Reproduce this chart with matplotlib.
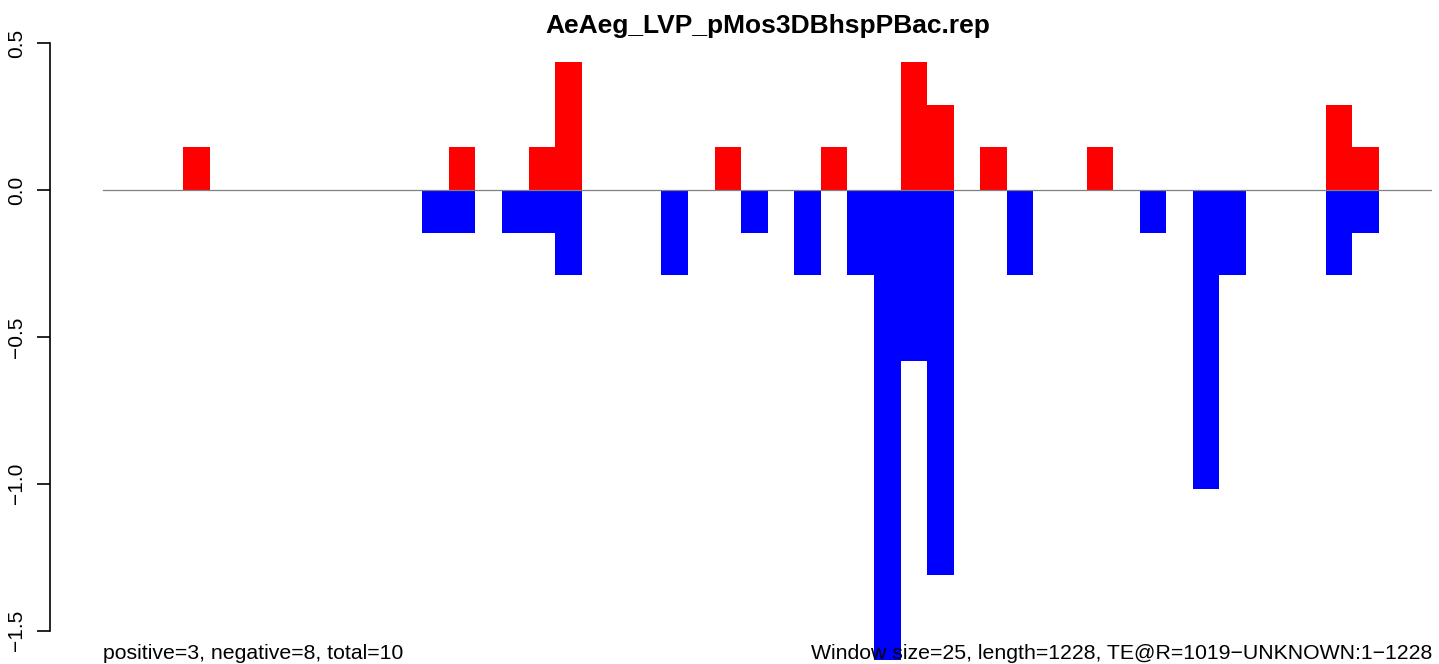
import matplotlib
matplotlib.use("Agg")
import matplotlib.pyplot as plt
import matplotlib.transforms as mtransforms

plt.rcParams["font.family"] = ["Liberation Sans", "DejaVu Sans"]

# --- data: window start (bp), window size 25 ---
window = 25
seq_len = 1250

pos_start = [75, 325, 400, 425, 575, 675, 750, 775, 825, 925, 1150, 1175]
pos_value = [0.146, 0.146, 0.146, 0.437, 0.146, 0.146, 0.437, 0.291, 0.146, 0.146, 0.291, 0.146]

neg_start = [300, 325, 375, 400, 425, 525, 600, 650, 700, 725, 750, 775,
             850, 975, 1025, 1050, 1150, 1175]
neg_value = [-0.146, -0.146, -0.146, -0.146, -0.291, -0.291, -0.146, -0.291,
             -0.291, -1.60, -0.582, -1.310, -0.291, -0.146, -1.019, -0.291,
             -0.291, -0.146]

yticks = [0.5, 0.0, -0.5, -1.0, -1.5]
ytick_labels = ["0.5", "0.0", "\u22120.5", "\u22121.0", "\u22121.5"]

title = "AeAeg_LVP_pMos3DBhspPBac.rep"
left_note = "positive=3, negative=8, total=10"
right_note = "Window size=25, length=1228, TE@R=1019\u2212UNKNOWN:1\u22121228"

W, H = 1439, 664
fig = plt.figure(figsize=(W / 100, H / 100), dpi=100)
ax = fig.add_axes([50.3 / W, 0, (1432 - 50.3) / W, (H - 30) / H])

ax.bar(pos_start, pos_value, width=window, align="edge", color="#FF0000", linewidth=0)
ax.bar(neg_start, neg_value, width=window, align="edge", color="#0000FF", linewidth=0)
ax.plot([0, seq_len], [0, 0], color="#808080", lw=0.9, zorder=3)

ax.set_xlim(-50, 1250)
ax.set_ylim(-1.614, 0.545)

for s in ["top", "right", "bottom"]:
    ax.spines[s].set_visible(False)
ax.spines["left"].set_bounds(-1.5, 0.5)
ax.spines["left"].set_linewidth(1.2)
ax.set_xticks([])
ax.set_yticks(yticks)
ax.set_yticklabels(ytick_labels, rotation=90, va="center", fontsize=15)
ax.tick_params(axis="y", length=9.7, width=1.2, pad=7.5)

fig.text(768 / W, 1 - 33 / H, title, ha="center", va="baseline",
         fontsize=19, fontweight="bold")

trans = mtransforms.blended_transform_factory(ax.transData, fig.transFigure)
ax.text(0, 5 / H, left_note, transform=trans, ha="left", va="baseline", fontsize=15.3, zorder=5)
ax.text(seq_len, 5 / H, right_note, transform=trans, ha="right", va="baseline", fontsize=15.3, zorder=5)

fig.savefig("out.png", dpi=100)
